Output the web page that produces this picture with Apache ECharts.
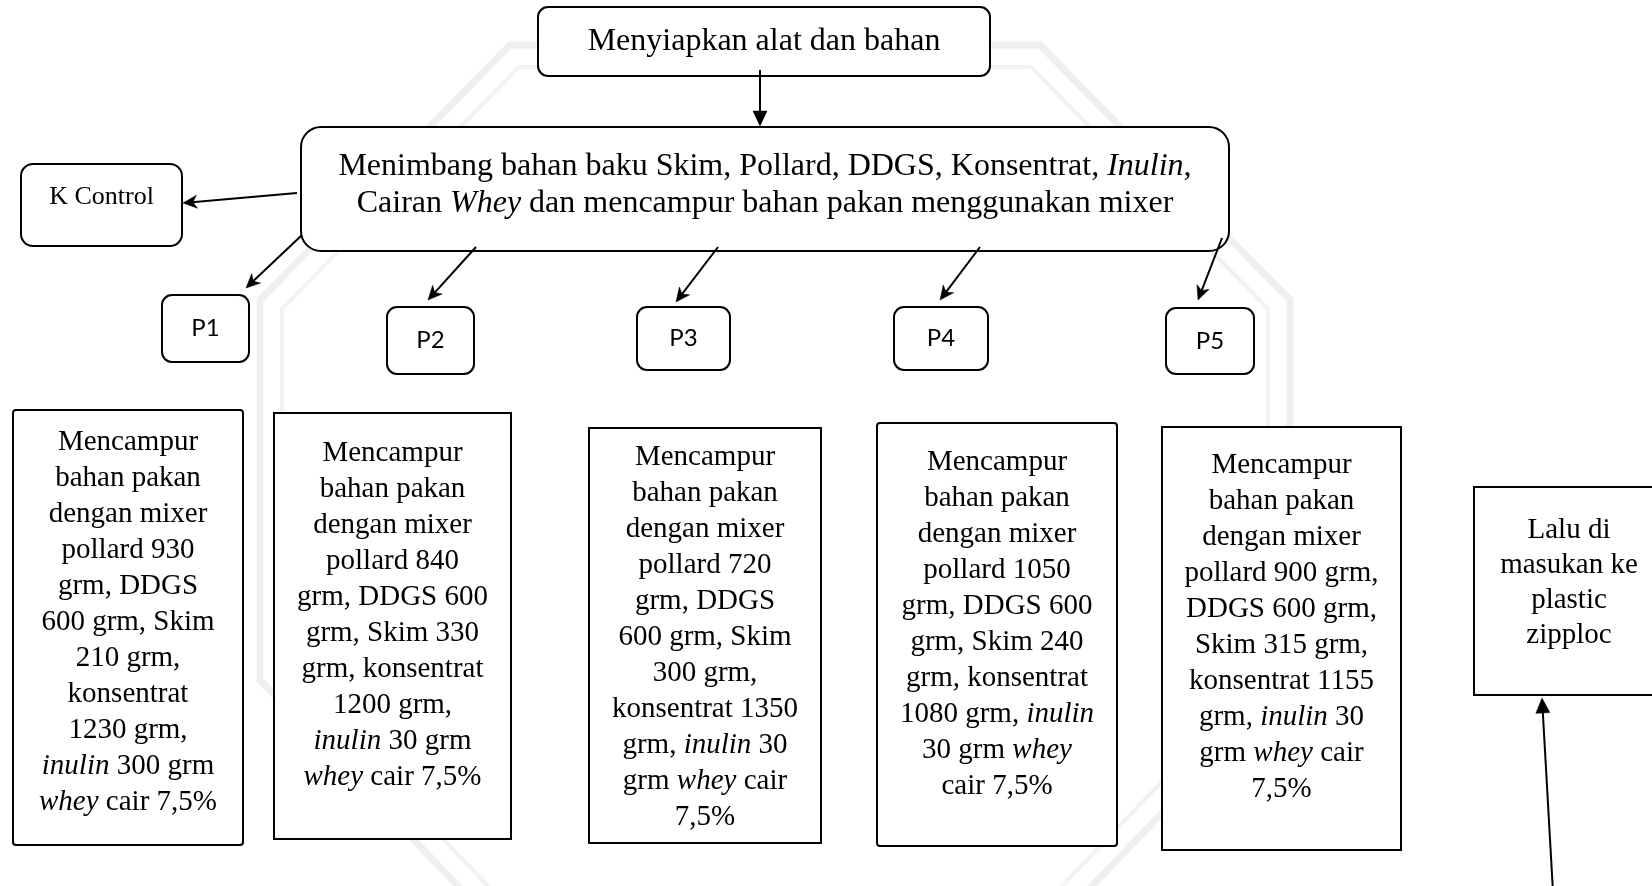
<!DOCTYPE html>
<html>
<head>
<meta charset="utf-8">
<script src="https://cdn.jsdelivr.net/npm/echarts@6/dist/echarts.min.js"></script>
<style>
html,body{margin:0;padding:0;background:#ffffff;}
#chart{width:1652px;height:886px;}
</style>
</head>
<body>
<div id="chart"></div>
<script>
// ---------------- DATA ----------------
const stepPrepare = "Menyiapkan alat dan bahan";
const stepWeighLines = [
  "Menimbang bahan baku Skim, Pollard, DDGS, Konsentrat, {i|Inulin},",
  "Cairan {i|Whey} dan mencampur bahan pakan menggunakan mixer"
];
const controlLabel = "K Control";
const treatments = ["P1", "P2", "P3", "P4", "P5"];
const pollard = [930, 840, 720, 1050, 900];
const ddgs = [600, 600, 600, 600, 600];
const skim = [210, 330, 300, 240, 315];
const konsentrat = [1230, 1200, 1350, 1080, 1155];
const inulin = [300, 30, 30, 30, 30];
const wheyCair = ["7,5%", "7,5%", "7,5%", "7,5%", "7,5%"];
const finalStepLines = ["Lalu di", "masukan ke", "plastic", "zipploc"];

// ---------------- LAYOUT ----------------
const SERIF = "'Liberation Serif', 'Times New Roman', serif";
const SANS = "Lato, 'Open Sans', sans-serif";
const wordsPerLine = [
  [1, 2, 2, 2, 2, 3, 2, 1, 2, 3, 3],
  [1, 2, 2, 2, 3, 3, 2, 2, 3, 3],
  [1, 2, 2, 2, 2, 3, 2, 2, 3, 3, 1],
  [1, 2, 2, 2, 3, 3, 2, 3, 3, 2],
  [1, 2, 2, 3, 3, 3, 2, 3, 3, 1]
];
const layout = {
  top:   {x: 538, y: 7, w: 452, h: 69, r: 10, textY: 42},
  big:   {x: 301, y: 127, w: 928, h: 124, r: 20, textTop: 148, lh: 37},
  ctrl:  {x: 21, y: 164, w: 161, h: 82, r: 12, textY: 197},
  pBoxes: [
    {x: 162, y: 295, w: 87, h: 67},
    {x: 387, y: 307, w: 87, h: 67},
    {x: 637, y: 307, w: 93, h: 63},
    {x: 894, y: 307, w: 94, h: 63},
    {x: 1166, y: 308, w: 88, h: 66}
  ],
  mixBoxes: [
    {x: 13, y: 410, w: 230, h: 435, r: 3, textTop: 424},
    {x: 274, y: 413, w: 237, h: 426, r: 0, textTop: 435},
    {x: 589, y: 428, w: 232, h: 415, r: 0, textTop: 439},
    {x: 877, y: 423, w: 240, h: 423, r: 3, textTop: 444},
    {x: 1162, y: 427, w: 239, h: 423, r: 0, textTop: 447}
  ],
  final: {x: 1474, y: 487, w: 190, h: 208, textTop: 513, lh: 35},
  arrows: [
    {from: [760, 70], to: [760, 126], head: 'tri'},
    {from: [297, 193], to: [183, 203], head: 'stealth'},
    {from: [302, 235], to: [246, 288], head: 'stealth'},
    {from: [476, 247], to: [428, 300], head: 'stealth'},
    {from: [718, 247], to: [676, 302], head: 'stealth'},
    {from: [980, 247], to: [940, 300], head: 'stealth'},
    {from: [1222, 238], to: [1198, 300], head: 'stealth'},
    {from: [1553, 892], to: [1542, 698], head: 'tri'}
  ]
};

function mixTokens(i) {
  return ["Mencampur", "bahan", "pakan", "dengan", "mixer",
    "pollard", String(pollard[i]), "grm,", "DDGS", String(ddgs[i]), "grm,",
    "Skim", String(skim[i]), "grm,", "konsentrat", String(konsentrat[i]), "grm,",
    "{i|inulin}", String(inulin[i]), "grm", "{i|whey}", "cair", wheyCair[i]];
}
function mixText(i) {
  const t = mixTokens(i);
  const lines = [];
  let k = 0;
  wordsPerLine[i].forEach(n => { lines.push(t.slice(k, k + n).join(" ")); k += n; });
  return lines.join("\n");
}

const els = [];
const STROKE = '#000000';

// faint background watermark outline (octagon)
function octagon(inset) {
  const L = 260 + inset, R = 1290 - inset, T = 45 + inset, B = 940 - inset;
  return [[510 + inset * 0.4, T], [1040 - inset * 0.4, T], [R, 300 + inset * 0.4], [R, 680 - inset * 0.4],
          [1040 - inset * 0.4, B], [510 + inset * 0.4, B], [L, 680 - inset * 0.4], [L, 300 + inset * 0.4]];
}
els.push({type: 'polygon', z: 0, silent: true, shape: {points: octagon(0)},
  style: {fill: 'none', stroke: '#efefef', lineWidth: 7}});
els.push({type: 'polygon', z: 0, silent: true, shape: {points: octagon(22)},
  style: {fill: 'none', stroke: '#f2f2f2', lineWidth: 4}});

function box(b, r) {
  els.push({type: 'rect', z: 10, shape: {x: b.x, y: b.y, width: b.w, height: b.h, r: r || 0},
    style: {fill: '#ffffff', stroke: STROKE, lineWidth: 2}});
}
function text(x, y, str, font, size, lh, valign) {
  els.push({type: 'text', z: 20, x: x, y: y,
    style: {text: str, fontFamily: font, fontSize: size, lineHeight: lh, fill: '#000',
      align: 'center', verticalAlign: valign || 'top',
      rich: {i: {fontFamily: font, fontSize: size, lineHeight: lh, fontStyle: 'italic', fill: '#000'}}}});
}

// top box
const T = layout.top;
box(T, T.r);
text(T.x + T.w / 2, T.textY, stepPrepare, SERIF, 32, 37, 'middle');

// big box
const B = layout.big;
box(B, B.r);
text(B.x + B.w / 2, B.textTop, stepWeighLines.join("\n"), SERIF, 32, B.lh, 'top');

// control box
const C = layout.ctrl;
box(C, C.r);
text(C.x + C.w / 2, C.textY, controlLabel, SERIF, 26, 30, 'middle');

// treatment boxes
treatments.forEach((p, i) => {
  const b = layout.pBoxes[i];
  box(b, 10);
  text(b.x + b.w / 2, b.y + b.h / 2, p, SANS, 24, 28, 'middle');
});

// mixing boxes
layout.mixBoxes.forEach((b, i) => {
  box(b, b.r);
  text(b.x + b.w / 2, b.textTop, mixText(i), SERIF, 29, 36, 'top');
});

// final box
const F = layout.final;
box(F, 0);
text(F.x + 95, F.textTop, finalStepLines.join("\n"), SERIF, 29, F.lh, 'top');

// arrows
layout.arrows.forEach(a => {
  const [x1, y1] = a.from, [x2, y2] = a.to;
  const dx = x2 - x1, dy = y2 - y1, len = Math.hypot(dx, dy);
  const ux = dx / len, uy = dy / len, px = -uy, py = ux;
  const hl = a.head === 'tri' ? 15 : 14, hw = a.head === 'tri' ? 7 : 6.5;
  const notch = a.head === 'tri' ? hl : 10;
  const bx = x2 - ux * hl, by = y2 - uy * hl;
  const nx = x2 - ux * notch, ny = y2 - uy * notch;
  els.push({type: 'line', z: 15, shape: {x1: x1, y1: y1, x2: nx + ux * 1, y2: ny + uy * 1},
    style: {stroke: STROKE, lineWidth: 2}});
  els.push({type: 'polygon', z: 16, shape: {points: [[x2, y2], [bx + px * hw, by + py * hw], [nx, ny], [bx - px * hw, by - py * hw]]},
    style: {fill: STROKE, stroke: STROKE, lineWidth: 0.5}});
});

const chart = echarts.init(document.getElementById('chart'), null, {renderer: 'canvas'});
chart.setOption({
  backgroundColor: '#ffffff',
  animation: false,
  graphic: {elements: els}
});
</script>
</body>
</html>
